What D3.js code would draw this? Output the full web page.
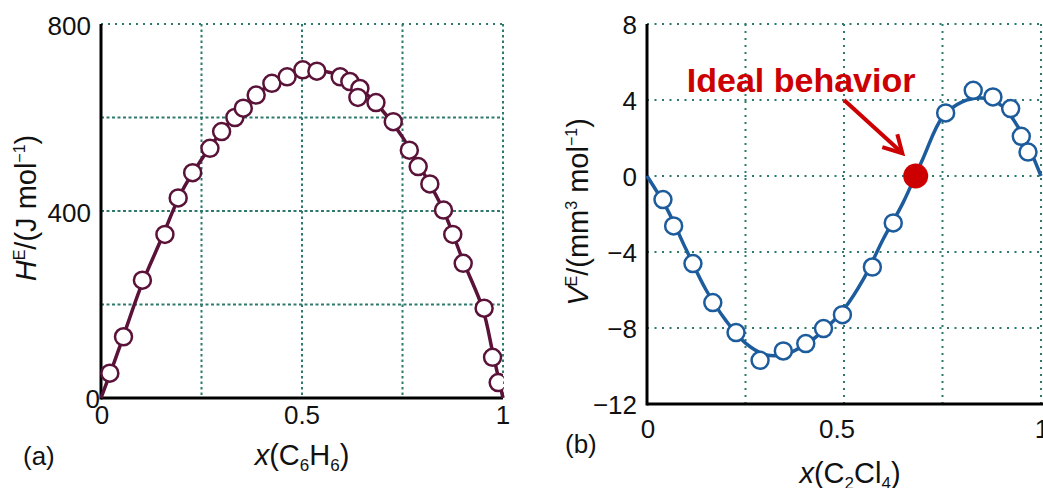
<!DOCTYPE html>
<html>
<head>
<meta charset="utf-8">
<script src="https://cdn.jsdelivr.net/npm/d3@7"></script>
<style>
  body { margin: 0; background: #fff; }
  svg { display: block; font-family: "Liberation Sans", Arial, Helvetica, sans-serif; }
  .tick-label { font-size: 26px; fill: #111; }
  .axis-label { font-size: 29px; fill: #111; }
</style>
</head>
<body>
<svg width="1043" height="488"></svg>
<script>
// ---- panel (a): excess enthalpy of benzene mixture ----
var hTicksX = [0, 0.5, 1];
var hTicksY = [0, 400, 800];
var hGridX = [0.25, 0.5, 0.75, 1];
var hGridY = [200, 400, 600, 800];
var hPointsX = [0.022, 0.056, 0.103, 0.159, 0.192, 0.228, 0.271, 0.300, 0.333, 0.354, 0.386, 0.425, 0.463, 0.502, 0.537, 0.595, 0.619, 0.644, 0.639, 0.684, 0.727, 0.767, 0.789, 0.818, 0.852, 0.875, 0.901, 0.953, 0.974, 0.988];
var hPointsY = [53, 131, 252, 350, 428, 482, 534, 570, 600, 620, 648, 673, 687, 702, 699, 687, 677, 662, 643, 632, 591, 530, 495, 458, 402, 350, 288, 192, 87, 33];
var hFitX = [0, 0.025, 0.05, 0.1, 0.15, 0.2, 0.25, 0.3, 0.35, 0.4, 0.45, 0.5, 0.55, 0.6, 0.65, 0.7, 0.75, 0.8, 0.85, 0.9, 0.95, 0.975, 1];
var hFitY = [0, 58, 118, 240, 340, 440, 510, 570, 620, 658, 686, 700, 700, 687, 658, 615, 558, 485, 405, 295, 190, 95, 0];

// ---- panel (b): excess volume of C2Cl4 mixture ----
var vTicksX = [0, 0.5, 1];
var vTicksY = [8, 4, 0, -4, -8, -12];
var vGridX = [0.25, 0.5, 0.75, 1];
var vGridY = [8, 4, 0, -4, -8];
var vPointsX = [0.0405, 0.0676, 0.1166, 0.167, 0.226, 0.287, 0.346, 0.403, 0.448, 0.496, 0.572, 0.625, 0.758, 0.828, 0.878, 0.923, 0.950, 0.967];
var vPointsY = [-1.24, -2.63, -4.61, -6.66, -8.24, -9.7, -9.21, -8.82, -8.03, -7.3, -4.79, -2.47, 3.32, 4.51, 4.16, 3.55, 2.09, 1.26];
var vFitX = [0, 0.05, 0.1, 0.15, 0.2, 0.25, 0.3, 0.35, 0.4, 0.45, 0.5, 0.55, 0.6, 0.65, 0.7, 0.75, 0.8, 0.85, 0.9, 0.95, 1];
var vFitY = [0, -1.7, -3.9, -6.0, -7.6, -8.8, -9.4, -9.4, -8.9, -8.1, -7.0, -5.4, -3.3, -1.4, 0.9, 3.1, 3.9, 4.1, 3.7, 2.3, 0];
var idealX = 0.682, idealY = 0;

var svg = d3.select("svg");
var gridColor = "#2d7a6c";

// scales
var hx = d3.scaleLinear().domain([0, 1]).range([101, 503]);
var hy = d3.scaleLinear().domain([0, 800]).range([398, 24]);
var vx = d3.scaleLinear().domain([0, 1]).range([647, 1041]);
var vy = d3.scaleLinear().domain([-12, 8]).range([404, 24]);

svg.append("clipPath").attr("id", "clipA")
  .append("rect").attr("x", 80).attr("y", 0).attr("width", 423).attr("height", 420);

function zip(xs, ys) { return xs.map(function(d, i) { return [d, ys[i]]; }); }

// ================= panel (a) =================
var ga = svg.append("g");

ga.selectAll(".gx").data(hGridX).enter().append("line")
  .attr("x1", function(d) { return hx(d); }).attr("x2", function(d) { return hx(d); })
  .attr("y1", hy(800)).attr("y2", hy(0))
  .attr("stroke", gridColor).attr("stroke-width", 2).attr("stroke-dasharray", "2.5,3");
ga.selectAll(".gy").data(hGridY).enter().append("line")
  .attr("x1", hx(0)).attr("x2", hx(1))
  .attr("y1", function(d) { return hy(d); }).attr("y2", function(d) { return hy(d); })
  .attr("stroke", gridColor).attr("stroke-width", 2)
  .attr("stroke-dasharray", function(d) { return d == 800 ? "2,5" : "3,2.5"; });

// axes lines
ga.append("line").attr("x1", hx(0)).attr("x2", hx(0)).attr("y1", hy(800)).attr("y2", hy(0) + 1.5)
  .attr("stroke", "#000").attr("stroke-width", 3);
ga.append("line").attr("x1", hx(0)).attr("x2", hx(1)).attr("y1", hy(0)).attr("y2", hy(0))
  .attr("stroke", "#000").attr("stroke-width", 3);

var lineA = d3.line().x(function(d) { return hx(d[0]); }).y(function(d) { return hy(d[1]); })
  .curve(d3.curveCatmullRom.alpha(0.5));
ga.append("path").datum(zip(hFitX, hFitY)).attr("d", lineA)
  .attr("fill", "none").attr("stroke", "#5a1238").attr("stroke-width", 3.5);

ga.append("g").attr("clip-path", "url(#clipA)")
  .selectAll("circle").data(zip(hPointsX, hPointsY)).enter().append("circle")
  .attr("cx", function(d) { return hx(d[0]); }).attr("cy", function(d) { return hy(d[1]); })
  .attr("r", 8.5).attr("fill", "#fff").attr("stroke", "#5a1238").attr("stroke-width", 2.5);

// tick labels
ga.selectAll(".ty").data(hTicksY).enter().append("text").attr("class", "tick-label")
  .attr("x", function(d) { return d == 0 ? 100 : 91; })
  .attr("y", function(d) { return hy(d) + (d == 0 ? 10 : 11); })
  .attr("text-anchor", "end").text(function(d) { return d; });
ga.selectAll(".tx").data(hTicksX).enter().append("text").attr("class", "tick-label")
  .attr("x", function(d) { return hx(d) + (d == 0 ? 1 : 0); }).attr("y", 424)
  .attr("text-anchor", "middle").text(function(d) { return d; });

ga.append("text").attr("class", "tick-label").attr("x", 23).attr("y", 465).text("(a)");

var xa = ga.append("text").attr("class", "axis-label").attr("x", hx(0.5)).attr("y", 465).attr("text-anchor", "middle");
xa.append("tspan").attr("font-style", "italic").text("x");
xa.append("tspan").text("(C");
xa.append("tspan").attr("font-size", 17).attr("dy", 6).text("6");
xa.append("tspan").attr("dy", -6).text("H");
xa.append("tspan").attr("font-size", 17).attr("dy", 6).text("6");
xa.append("tspan").attr("dy", -6).text(")");

var ya = ga.append("text").attr("class", "axis-label").attr("text-anchor", "middle")
  .attr("transform", "translate(36," + 208 + ") rotate(-90)");
ya.append("tspan").attr("font-style", "italic").text("H");
ya.append("tspan").attr("font-size", 16).attr("dy", -11).text("E");
ya.append("tspan").attr("dy", 11).text("/(J mol");
ya.append("tspan").attr("font-size", 16).attr("dy", -11).text("\u22121");
ya.append("tspan").attr("dy", 11).text(")");

// ================= panel (b) =================
var gb = svg.append("g");

gb.selectAll(".gx").data(vGridX).enter().append("line")
  .attr("x1", function(d) { return vx(d); }).attr("x2", function(d) { return vx(d); })
  .attr("y1", vy(8)).attr("y2", vy(-12))
  .attr("stroke", gridColor).attr("stroke-width", 2).attr("stroke-dasharray", "2,5");
gb.selectAll(".gy").data(vGridY).enter().append("line")
  .attr("x1", vx(0)).attr("x2", 1043)
  .attr("y1", function(d) { return vy(d); }).attr("y2", function(d) { return vy(d); })
  .attr("stroke", gridColor).attr("stroke-width", 2).attr("stroke-dasharray", "2,5.5");

gb.append("line").attr("x1", vx(0)).attr("x2", vx(0)).attr("y1", vy(8)).attr("y2", vy(-12) + 1.5)
  .attr("stroke", "#000").attr("stroke-width", 3);
gb.append("line").attr("x1", vx(0)).attr("x2", 1043).attr("y1", vy(-12)).attr("y2", vy(-12))
  .attr("stroke", "#000").attr("stroke-width", 3);

var lineB = d3.line().x(function(d) { return vx(d[0]); }).y(function(d) { return vy(d[1]); })
  .curve(d3.curveCatmullRom.alpha(0.5));
gb.append("path").datum(zip(vFitX, vFitY)).attr("d", lineB)
  .attr("fill", "none").attr("stroke", "#1d5c9c").attr("stroke-width", 3.5);

gb.selectAll("circle.pt").data(zip(vPointsX, vPointsY)).enter().append("circle")
  .attr("class", "pt")
  .attr("cx", function(d) { return vx(d[0]); }).attr("cy", function(d) { return vy(d[1]); })
  .attr("r", 8.5).attr("fill", "#fff").attr("stroke", "#1d5c9c").attr("stroke-width", 2.5);

// ideal behaviour point and annotation
gb.append("circle").attr("cx", vx(idealX)).attr("cy", vy(idealY)).attr("r", 12.5).attr("fill", "#cc0000");

var ax0 = vx(0.5), ay0 = vy(4), ax1 = vx(0.648), ay1 = vy(1.2);
gb.append("line").attr("x1", ax0).attr("y1", ay0).attr("x2", ax1 - 2).attr("y2", ay1 - 2)
  .attr("stroke", "#cc0000").attr("stroke-width", 4);
gb.append("path")
  .attr("d", "M" + (ax1 - 20) + "," + (ay1 - 6) + " L" + ax1 + "," + ay1 + " L" + (ax1 - 5) + "," + (ay1 - 19))
  .attr("fill", "none").attr("stroke", "#cc0000").attr("stroke-width", 4).attr("stroke-linejoin", "miter");
gb.append("text").attr("x", vx(0.101)).attr("y", 92)
  .attr("font-size", 34).attr("font-weight", "bold").attr("fill", "#cc0000")
  .text("Ideal behavior");

gb.selectAll(".ty").data(vTicksY).enter().append("text").attr("class", "tick-label")
  .attr("x", 637).attr("y", function(d) { return vy(d) + 10; })
  .attr("text-anchor", "end").text(function(d) { return d < 0 ? "\u2212" + Math.abs(d) : d; });
gb.selectAll(".tx").data(vTicksX).enter().append("text").attr("class", "tick-label")
  .attr("x", function(d) { return d == 0.5 ? vx(d) - 7 : vx(d) + 1; }).attr("y", 438)
  .attr("text-anchor", "middle").text(function(d) { return d; });

gb.append("text").attr("class", "tick-label").attr("x", 565).attr("y", 453).text("(b)");

var xb = gb.append("text").attr("class", "axis-label").attr("x", 850).attr("y", 483).attr("text-anchor", "middle");
xb.append("tspan").attr("font-style", "italic").text("x");
xb.append("tspan").text("(C");
xb.append("tspan").attr("font-size", 17).attr("dy", 6).text("2");
xb.append("tspan").attr("dy", -6).text("Cl");
xb.append("tspan").attr("font-size", 17).attr("dy", 6).text("4");
xb.append("tspan").attr("dy", -6).text(")");

var yb = gb.append("text").attr("class", "axis-label").attr("text-anchor", "middle")
  .attr("transform", "translate(588," + 212 + ") rotate(-90)");
yb.append("tspan").attr("font-style", "italic").text("V");
yb.append("tspan").attr("font-size", 16).attr("dy", -11).text("E");
yb.append("tspan").attr("dy", 11).text("/(mm");
yb.append("tspan").attr("font-size", 16).attr("dy", -11).text("3");
yb.append("tspan").attr("dy", 11).text(" mol");
yb.append("tspan").attr("font-size", 16).attr("dy", -11).text("\u22121");
yb.append("tspan").attr("dy", 11).text(")");
</script>
</body>
</html>
